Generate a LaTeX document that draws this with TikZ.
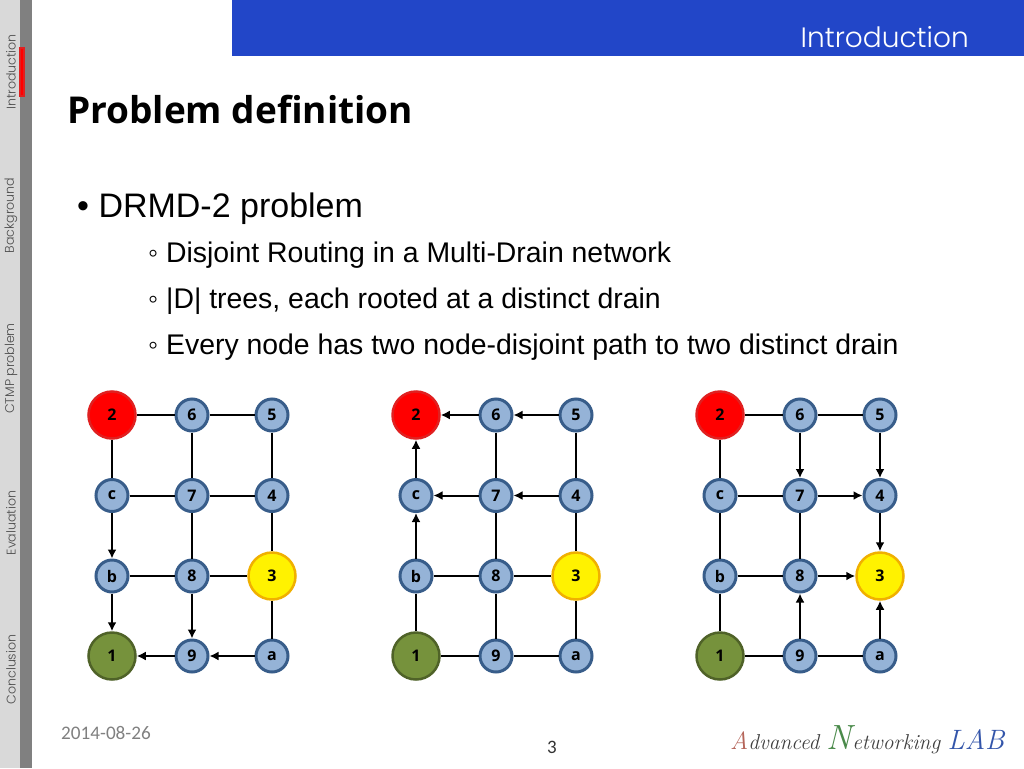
\documentclass[tikz,border=0pt]{standalone}
\usepackage{fontspec}
\setmainfont{Liberation Sans}
\newfontfamily\gothic{Poppins Light}
\newfontfamily\titlef{Open Sans}
\newfontfamily\nodef{Carlito}
\newfontfamily\logof{Latin Modern Roman}
\usetikzlibrary{arrows.meta}
\definecolor{bluefill}{HTML}{95B3D7}
\definecolor{blueline}{HTML}{385D8A}
\definecolor{banner}{HTML}{2246C8}
\definecolor{greenfill}{HTML}{76923C}
\definecolor{greenline}{HTML}{4F6228}
\definecolor{goldline}{HTML}{F0B000}
\definecolor{redline}{HTML}{E02020}
\tikzset{
 x=1pt,y=-1pt,
 small/.style={circle,draw=blueline,fill=bluefill,line width=3pt,minimum size=32pt,inner sep=0pt,font=\titlef\bfseries\fontsize{16}{16}\selectfont},
 sink/.style={circle,line width=2.5pt,minimum size=47pt,inner sep=0pt,font=\titlef\bfseries\fontsize{16}{16}\selectfont},
 red/.style={sink,draw=redline,fill=red},
 gold/.style={sink,draw=goldline,fill=yellow},
 green/.style={sink,draw=greenline,fill=greenfill},
 edge/.style={line width=2pt,black},
 arr/.style={edge,-{Latex[length=9pt,width=9pt]}},
 side/.style={rotate=90,anchor=center,text=black!70,font=\gothic\fontsize{12.6}{12.6}\selectfont},
 sub/.style={anchor=base west,inner sep=0pt,font=\fontsize{28.4}{28.4}\selectfont},
}
\newcommand{\grid}[2]{%
 \node[red] (#1n2) at (#2,415) {2};
 \node[small] (#1n6) at (#2+80,415) {6};
 \node[small] (#1n5) at (#2+160,415) {5};
 \node[small] (#1nc) at (#2,495.5) {c};
 \node[small] (#1n7) at (#2+80,495.5) {7};
 \node[small] (#1n4) at (#2+160,495.5) {4};
 \node[small] (#1nb) at (#2,576) {b};
 \node[small] (#1n8) at (#2+80,576) {8};
 \node[gold] (#1n3) at (#2+160,576) {3};
 \node[green] (#1n1) at (#2,656) {1};
 \node[small] (#1n9) at (#2+80,656) {9};
 \node[small] (#1na) at (#2+160,656) {a};
}
\begin{document}
\begin{tikzpicture}
\useasboundingbox (0,0) rectangle (1024,768);
\fill[white] (0,0) rectangle (1024,768);
\fill[black!15] (0,0) rectangle (20,768);
\fill[black!50] (20,0) rectangle (32,768);
\fill[red] (20,48) rectangle (24,96);
\fill[banner] (232,0) rectangle (1024,56);
\node[anchor=base east,text=white,font=\gothic\fontsize{28}{28}\selectfont,inner sep=0pt] (head) at (969,48) {Introduction};
\node[side] (s1) at (11,72) {Introduction};
\node[side] (s2) at (11,215.5) {Background};
\node[side] (s3) at (11,368.5) {CTMP problem};
\node[side] (s4) at (11,523) {Evaluation};
\node[side] (s5) at (11,669.5) {Conclusion};
\node[anchor=base west,inner sep=0pt,font=\titlef\bfseries\fontsize{37}{37}\selectfont] (title) at (67,123) {Problem definition};
\node[anchor=base west,inner sep=0pt,font=\fontsize{34}{34}\selectfont] (l0) at (77,217) {\textbullet\ DRMD-2 problem};
\node[sub] (l1) at (148,262) {◦ Disjoint Routing in a Multi-Drain network};
\node[sub] (l2) at (148,308) {◦ |D| trees, each rooted at a distinct drain};
\node[sub] (l3) at (148,354) {◦ Every node has two node-disjoint path to two distinct drain};
\grid{A}{112}
\grid{B}{416}
\grid{C}{720}
% left graph
\draw[edge] (An2)--(An6); \draw[edge] (An6)--(An5);
\draw[edge] (Anc)--(An7); \draw[edge] (An7)--(An4);
\draw[edge] (Anb)--(An8); \draw[edge] (An8)--(An3);
\draw[edge] (An2)--(Anc); \draw[edge] (An6)--(An7); \draw[edge] (An7)--(An8);
\draw[edge] (An5)--(An4); \draw[edge] (An4)--(An3); \draw[edge] (An3)--(Ana);
\draw[arr] (Anc)--(Anb); \draw[arr] (Anb)--(An1); \draw[arr] (An8)--(An9);
\draw[arr] (Ana)--(An9); \draw[arr] (An9)--(An1);
% middle graph
\draw[arr] (Bn5)--(Bn6); \draw[arr] (Bn6)--(Bn2); \draw[arr] (Bn4)--(Bn7);
\draw[arr] (Bn7)--(Bnc); \draw[arr] (Bnc)--(Bn2); \draw[arr] (Bnb)--(Bnc);
\draw[edge] (Bn6)--(Bn7); \draw[edge] (Bn7)--(Bn8); \draw[edge] (Bn8)--(Bn9);
\draw[edge] (Bn5)--(Bn4); \draw[edge] (Bn4)--(Bn3); \draw[edge] (Bn3)--(Bna);
\draw[edge] (Bnb)--(Bn8); \draw[edge] (Bn8)--(Bn3);
\draw[edge] (Bnb)--(Bn1); \draw[edge] (Bn1)--(Bn9); \draw[edge] (Bn9)--(Bna);
% right graph
\draw[edge] (Cn2)--(Cn6); \draw[edge] (Cn6)--(Cn5);
\draw[edge] (Cn2)--(Cnc); \draw[edge] (Cnc)--(Cnb); \draw[edge] (Cnb)--(Cn1);
\draw[edge] (Cnc)--(Cn7); \draw[edge] (Cn7)--(Cn8); \draw[edge] (Cnb)--(Cn8);
\draw[edge] (Cn1)--(Cn9); \draw[edge] (Cn9)--(Cna);
\draw[arr] (Cn6)--(Cn7); \draw[arr] (Cn5)--(Cn4); \draw[arr] (Cn7)--(Cn4);
\draw[arr] (Cn4)--(Cn3); \draw[arr] (Cn8)--(Cn3); \draw[arr] (Cn9)--(Cn8); \draw[arr] (Cna)--(Cn3);
% footer
\node[anchor=base west,inner sep=0pt,text=black!50,font=\nodef\fontsize{19.2}{19.2}\selectfont] (date) at (61,739) {2014-08-26};
\node[anchor=base,inner sep=0pt,text=black!80,font=\nodef\fontsize{19}{19}\selectfont] (page) at (552,753) {3};
\node[anchor=base west,inner sep=0pt,font=\logof\itshape\fontsize{21.5}{21.5}\selectfont] (logo) at (730,749)
 {\textcolor[HTML]{B5655A}{\fontsize{25}{25}\selectfont A}\textcolor{black!75}{dvanced} \textcolor[HTML]{4A8A4A}{\fontsize{35}{35}\selectfont N}\textcolor{black!75}{etworking} \textcolor[HTML]{3355AA}{\fontsize{28}{28}\selectfont LAB}};
\end{tikzpicture}
\end{document}
